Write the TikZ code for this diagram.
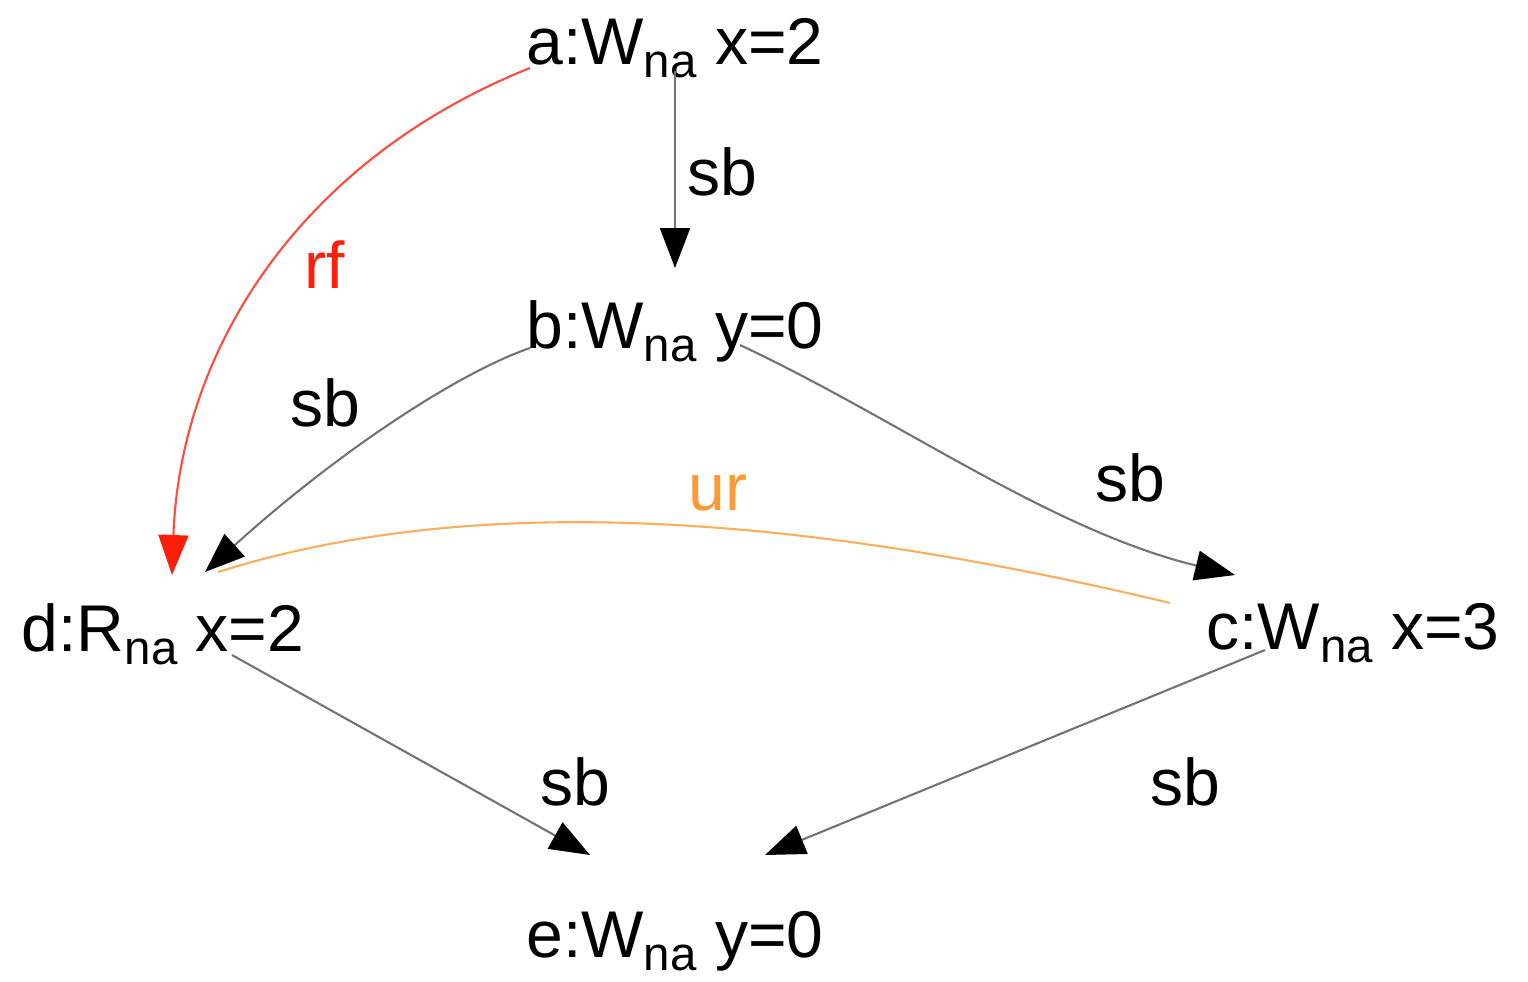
\documentclass[tikz,border=0pt]{standalone}
\usepackage{fontspec}
\setmainfont{Liberation Sans}
\usetikzlibrary{arrows.meta,calc}
\newcommand\lowsub[1]{\raisebox{-0.2em}{\fontsize{13.5}{14}\selectfont #1}}
\definecolor{urorange}{RGB}{255,153,51}
\definecolor{rfred}{RGB}{255,30,10}
\tikzset{
  ev/.style={inner sep=0pt, anchor=base, font=\fontsize{18.8}{20}\selectfont},
  lbl/.style={inner sep=0pt, font=\fontsize{18.8}{20}\selectfont},
  sbedge/.style={draw=black!55, line width=0.6pt, -{Triangle[length=4mm,width=3mm,color=black]}},
  rfedge/.style={draw=rfred!80, line width=0.6pt, -{Triangle[length=4mm,width=3mm,color=rfred]}},
  uredge/.style={draw=urorange!80, line width=0.6pt}
}
\begin{document}
\begin{tikzpicture}
\useasboundingbox (0,0) rectangle (15.28,-9.81);
\node[ev] (a) at (6.75,-0.64) {a:W\lowsub{na} x=2};
\node[ev] (b) at (6.75,-3.48) {b:W\lowsub{na} y=0};
\node[ev] (d) at (1.63,-6.51) {d:R\lowsub{na} x=2};
\node[ev] (c) at (13.53,-6.49) {c:W\lowsub{na} x=3};
\node[ev] (e) at (6.75,-9.57) {e:W\lowsub{na} y=0};
% a -> b
\draw[sbedge] ($(a.base)+(0,-0.07)$) -- ($(b.base)+(0,0.80)$);
\node[lbl] (l1) at (7.22,-1.72) {sb};
% rf a -> d
\draw[rfedge] ($(a.base)+(-1.45,-0.04)$) .. controls (3.0,-1.6) and (1.8,-3.5) .. ($(d.base)+(0.09,0.76)$);
\node[lbl, text=rfred] (l2) at (3.25,-2.65) {rf};
% b -> d
\draw[sbedge] ($(b.base)+(-1.45,0.0)$) .. controls (4.6,-3.72) and (3.4,-4.5) .. ($(d.base)+(0.42,0.79)$);
\node[lbl] (l3) at (3.25,-4.03) {sb};
% b -> c
\draw[sbedge] ($(b.base)+(0.65,0.03)$) .. controls (9.0,-4.2) and (10.5,-5.3) .. ($(c.base)+(-1.18,0.74)$);
\node[lbl] (l4) at (11.30,-4.78) {sb};
% ur d - c
\draw[uredge] ($(d.base)+(0.55,0.79)$) .. controls (4.4,-5.02) and (7.4,-5.0) .. ($(c.base)+(-1.83,0.46)$);
\node[lbl, text=urorange] (l5) at (7.18,-4.93) {ur};
% d -> e
\draw[sbedge] ($(d.base)+(0.69,-0.04)$) -- ($(e.base)+(-0.85,1.02)$);
\node[lbl] (l6) at (5.75,-7.82) {sb};
% c -> e
\draw[sbedge] ($(c.base)+(-0.88,-0.01)$) -- ($(e.base)+(0.90,1.02)$);
\node[lbl] (l7) at (11.85,-7.82) {sb};
\end{tikzpicture}
\end{document}
